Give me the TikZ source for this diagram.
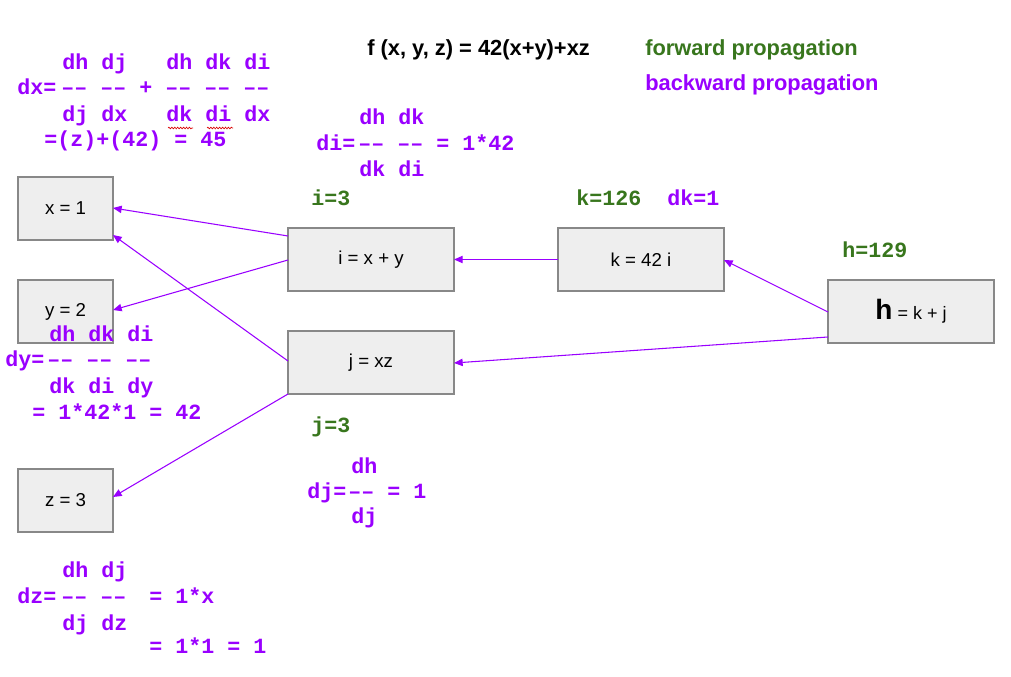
\documentclass[tikz,border=0pt]{standalone}
\usepackage{fontspec}
\setmainfont{Liberation Sans}
\newfontfamily\monof{Liberation Mono}[Ligatures=NoCommon]
\usetikzlibrary{calc,arrows.meta,decorations.pathmorphing}
\definecolor{bp}{HTML}{9900FF}
\definecolor{fp}{HTML}{38761D}
\definecolor{boxfill}{HTML}{EEEEEE}
\definecolor{boxline}{HTML}{888888}
\newcommand{\dsh}{\symbol{"2013}\symbol{"2013}}
\tikzset{
  opbox/.style={draw=boxline, line width=1pt, fill=boxfill, inner sep=0pt, outer sep=0pt,
    minimum width=#1*0.75pt, minimum height=47.25pt, font=\fontsize{14}{16}\selectfont},
  opbox/.default=166,
  back/.style={draw=bp, line width=0.8pt, -{Triangle[length=6.5pt,width=5.5pt]}, shorten >=0pt},
  mtxt/.style={anchor=base west, inner sep=0pt, text=bp, font=\monof\bfseries\fontsize{16.25}{18}\selectfont},
  ftxt/.style={mtxt, text=fp},
  spell/.style={draw=red!85!black, line width=0.5pt, decorate, decoration={snake, segment length=2.2pt, amplitude=0.6pt}}
}
\begin{document}
\begin{tikzpicture}[x=0.75pt,y=-0.75pt]
\useasboundingbox (0,0) rectangle (1011,677);
% boxes
\node[opbox=95] (x) at (65.5,208.5) {x = 1};
\node[opbox=95] (y) at (65.5,311.5) {y = 2};
\node[opbox=95] (z) at (65.5,500.5) {z = 3};
\node[opbox] (i) at (371,259.5) {i = x + y};
\node[opbox] (j) at (371,362.5) {j = xz};
\node[opbox] (k) at (641,259.5) {k = 42 i};
\node[opbox] (h) at (911,311.5) {{\fontsize{21}{22}\selectfont\bfseries h} {\fontsize{13.5}{15}\selectfont = k + j}};
% connectors
\draw[back] ($(i.west)+(0,-23.5)$) -- ($(x.east)+(0,-0.5)$);
\draw[back] ($(i.west)+(0,0.5)$) -- ($(y.east)+(0,-1.5)$);
\draw[back] ($(j.west)+(0,-1.5)$) -- ($(x.east)+(0,26.5)$);
\draw[back] (j.south west) -- ($(z.east)+(0,-3.5)$);
\draw[back] (k.west) -- (i.east);
\draw[back] ($(h.west)+(0,0.5)$) -- ($(k.east)+(0,0.5)$);
\draw[back] ($(h.west)+(0,25.5)$) -- ($(j.east)+(0,0.5)$);
% title and legend
\node[anchor=base west, inner sep=0pt, font=\bfseries\fontsize{16.4}{18}\selectfont] (title) at (367,56) {f (x, y, z) = 42(x+y)+xz};
\node[anchor=base west, inner sep=0pt, text=fp, font=\bfseries\fontsize{16.4}{18}\selectfont] (fwd) at (645,56) {forward propagation};
\node[anchor=base west, inner sep=0pt, text=bp, font=\bfseries\fontsize{16.4}{18}\selectfont] (bwd) at (645,91) {backward propagation};
% dx block
\node[mtxt] (dx1) at (62,70) {dh~dj~~~dh~dk~di};
\node[mtxt] (dx2a) at (17,95) {dx=};
\node[mtxt] (dx2b) at (61,95) {\dsh~\dsh~+~\dsh~\dsh~\dsh};
\node[mtxt] (dx3) at (62,122) {dj~dx~~~dk~di~dx};
\node[mtxt] (dx4) at (44,147) {=(z)+(42)~=~45};
\draw[spell] (168,128) -- (193,128);
\draw[spell] (207,128) -- (233,128);
% di block
\node[mtxt] (di1) at (359,125) {dh~dk};
\node[mtxt] (di2a) at (316,151) {di=};
\node[mtxt] (di2b) at (358,151) {\dsh~\dsh~=~1*42};
\node[mtxt] (di3) at (359,177) {dk~di};
% forward values
\node[ftxt] (iv) at (311,206) {i=3};
\node[ftxt] (kv) at (576,206) {k=126};
\node[mtxt] (dkv) at (667,206) {dk=1};
\node[ftxt] (hv) at (842,258) {h=129};
\node[ftxt] (jv) at (311,432) {j=3};
% dy block
\node[mtxt] (dy1) at (49,342) {dh~dk~di};
\node[mtxt] (dy2a) at (5,367) {dy=};
\node[mtxt] (dy2b) at (47,367) {\dsh~\dsh~\dsh};
\node[mtxt] (dy3) at (49,394) {dk~di~dy};
\node[mtxt] (dy4) at (32,420) {=~1*42*1~=~42};
% dj block
\node[mtxt] (dj1) at (351,473) {dh};
\node[mtxt] (dj2a) at (307,498) {dj=};
\node[mtxt] (dj2b) at (348,498) {\dsh~=~1};
\node[mtxt] (dj3) at (351,523) {dj};
% dz block
\node[mtxt] (dz1) at (62,577) {dh~dj};
\node[mtxt] (dz2a) at (17,603) {dz=};
\node[mtxt] (dz2b) at (61,603) {\dsh~\dsh};
\node[mtxt] (dz2c) at (149,603) {=~1*x};
\node[mtxt] (dz3) at (62,630) {dj~dz};
\node[mtxt] (dz4) at (149,653) {=~1*1~=~1};
\end{tikzpicture}
\end{document}
